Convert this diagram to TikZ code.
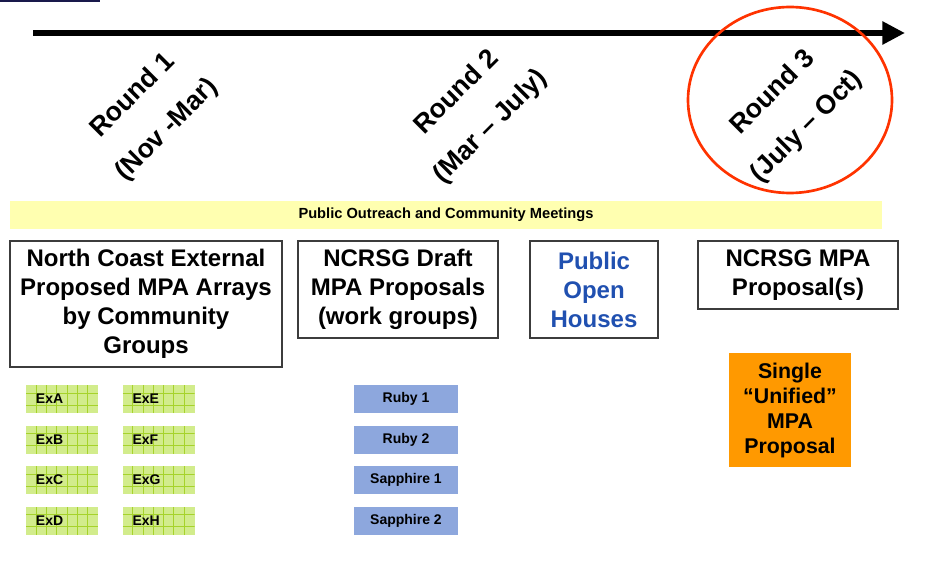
\documentclass[tikz,border=0pt]{standalone}
\usepackage{fontspec}
\setmainfont{Liberation Sans}
\usetikzlibrary{positioning,arrows.meta,shapes.geometric}
\definecolor{topnavy}{RGB}{25,25,75}
\definecolor{ringred}{RGB}{255,51,0}
\definecolor{outreach}{RGB}{255,255,176}
\definecolor{boxgray}{RGB}{60,60,60}
\definecolor{openblue}{RGB}{32,80,176}
\definecolor{unified}{RGB}{255,153,0}
\definecolor{exgreen}{RGB}{210,236,140}
\definecolor{exline}{RGB}{166,211,43}
\definecolor{gemblue}{RGB}{141,167,221}

\begin{document}
\begin{tikzpicture}[x=0.75pt, y=-0.75pt, font=\bfseries,
    box/.style = {draw=boxgray, line width=0.9pt, align=center, inner sep=0pt, font=\bfseries\fontsize{18}{21.75}\selectfont},
    round/.style = {rotate=45, align=center, font=\bfseries\fontsize{20}{36}\selectfont},
    ex/.style = {fill=exgreen, minimum height=21pt, text width=39pt, inner xsep=7.5pt, inner ysep=0pt, align=left, font=\bfseries\fontsize{10.5}{12}\selectfont,
      path picture={\foreach \k in {1,...,6} \draw[exline, line width=0.75pt] ([xshift=\k*7.7pt]path picture bounding box.south west) -- ([xshift=\k*7.7pt]path picture bounding box.north west);
        \foreach \k in {6,15} \draw[exline, line width=0.75pt] ([yshift=\k pt]path picture bounding box.south west) -- ([yshift=\k pt]path picture bounding box.south east);}},
    gem/.style = {fill=gemblue, minimum width=78pt, minimum height=21pt, inner sep=0pt, font=\bfseries\fontsize{10.5}{12}\selectfont}]
    \useasboundingbox (0,0) rectangle (935,563);
    \fill[topnavy] (0,0) rectangle (100,2.5);
    \coordinate (tail) at (33,33);
    \coordinate (head) at (905,33);
    \draw[line width=4.5pt, -{Triangle[length=17pt,width=16.5pt]}] (tail) -- (head);
    \node[draw=ringred, line width=2pt, ellipse, minimum width=153pt, minimum height=139.5pt] (ring) at (790,100) {};
    \node[round] (r1) at (150,113) {Round 1\\(Nov -Mar)};
    \node[round] (r2) at (474,110) {Round 2\\(Mar -- July)};
    \node[round] (r3) at (790,110) {Round 3\\(July -- Oct)};
    \node[fill=outreach, minimum width=654pt, minimum height=21pt, font=\bfseries\fontsize{11}{13}\selectfont] (meet) at (446,215) {Public Outreach and Community Meetings};
    \node[box, minimum width=204pt, minimum height=94.5pt] (ext) at (146,304) {North Coast External\\Proposed MPA Arrays\\by Community\\Groups};
    \node[box, minimum width=150pt, minimum height=72.75pt] (draft) at (398,289.5) {NCRSG Draft\\MPA Proposals\\(work groups)};
    \node[box, minimum width=96pt, minimum height=72.75pt, text=openblue] (open) at (594,289.5) {Public\\Open\\Houses};
    \node[box, minimum width=150pt, minimum height=51pt] (mpa) at (798,275) {NCRSG MPA\\Proposal(s)};
    \node[fill=unified, minimum width=91.5pt, minimum height=85.5pt, inner sep=0pt, align=center, font=\bfseries\fontsize{16}{18.75}\selectfont] (single) at (790,410) {Single\\``Unified''\\MPA\\Proposal};
    \node[ex] (exa) at (62,399) {ExA};
    \node[ex] (exb) [below=9pt of exa] {ExB};
    \node[ex] (exc) [below=9pt of exb] {ExC};
    \node[ex] (exd) [below=9pt of exc] {ExD};
    \node[ex] (exe) [right=18pt of exa] {ExE};
    \node[ex] (exf) [below=9pt of exe] {ExF};
    \node[ex] (exg) [below=9pt of exf] {ExG};
    \node[ex] (exh) [below=9pt of exg] {ExH};
    \node[gem] (ruby1) at (406,399) {Ruby 1};
    \node[gem] (ruby2) [below=9pt of ruby1] {Ruby 2};
    \node[gem] (sapph1) [below=9pt of ruby2] {Sapphire 1};
    \node[gem] (sapph2) [below=9pt of sapph1] {Sapphire 2};
\end{tikzpicture}
\end{document}
